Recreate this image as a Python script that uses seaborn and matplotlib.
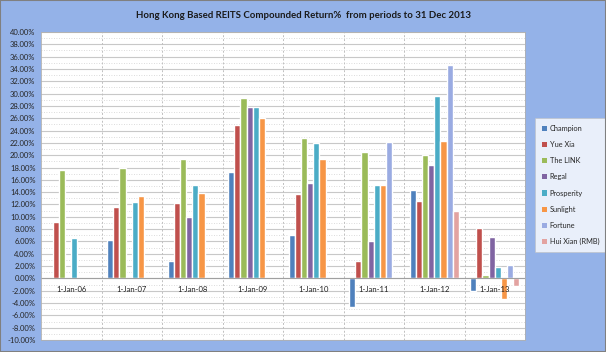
import numpy as np
import pandas as pd
import matplotlib
matplotlib.use('Agg')
import matplotlib.pyplot as plt
import seaborn as sns
from matplotlib.patches import Rectangle, Patch

# Compounded return (%) per REIT, by start date of period
periods = ['1-Jan-06', '1-Jan-07', '1-Jan-08', '1-Jan-09',
           '1-Jan-10', '1-Jan-11', '1-Jan-12', '1-Jan-13']
reits = ['Champion', 'Yue Xia', 'The LINK', 'Regal',
         'Prosperity', 'Sunlight', 'Fortune', 'Hui Xian (RMB)']

champion   = [np.nan, 6.3, 2.8, 17.2, 7.1, -4.7, 14.4, -2.0]
yue_xia    = [9.2, 11.6, 12.2, 24.9, 13.7, 2.9, 12.6, 8.2]
the_link   = [17.6, 18.0, 19.4, 29.3, 22.8, 20.5, 20.0, 0.6]
regal      = [np.nan, np.nan, 9.9, 27.9, 15.5, 6.0, 18.4, 6.7]
prosperity = [6.5, 12.4, 15.1, 27.9, 21.9, 15.2, 29.6, 1.8]
sunlight   = [np.nan, 13.3, 13.8, 26.0, 19.4, 15.1, 22.3, -3.4]
fortune    = [np.nan, np.nan, np.nan, np.nan, np.nan, 22.2, 34.7, 2.1]
hui_xian   = [np.nan, np.nan, np.nan, np.nan, np.nan, np.nan, 11.0, -1.3]

colors = ['#4f81bd', '#c0504d', '#9bbb59', '#8064a2',
          '#4bacc6', '#f79646', '#9aabe2', '#e3a3a1']

series = [champion, yue_xia, the_link, regal, prosperity, sunlight, fortune, hui_xian]
rows = []
for name, vals in zip(reits, series):
    for p, v in zip(periods, vals):
        rows.append({'period': p, 'reit': name, 'ret': v})
df = pd.DataFrame(rows).dropna()

sns.set_style('white')
plt.rcParams['font.family'] = ['Lato', 'DejaVu Sans']

fig = plt.figure(figsize=(6.06, 3.52), dpi=100)
fig.patch.set_facecolor('#94b2e8')
ax = fig.add_axes([41 / 606, 1 - 340 / 352, 484 / 606, 308 / 352])
ax.set_facecolor('white')

sns.barplot(data=df, x='period', y='ret', hue='reit', order=periods,
            hue_order=reits, palette=colors, width=0.81, saturation=1,
            errorbar=None, ax=ax, legend=False)

ax.set_ylim(-10, 40)
ax.set_xlim(-0.5, len(periods) - 0.5)
ax.set_yticks(np.arange(-10, 41, 2))
ax.set_yticklabels([f'{v:.2f}%' for v in np.arange(-10, 41, 2)], fontsize=5.5)
ax.tick_params(axis='y', length=0, pad=4)
ax.set_xticks([])
ax.set_xlabel('')
ax.set_ylabel('')

# gridlines
for v in np.arange(-10, 41, 2):
    ax.axhline(v, color='#c8c8c8', lw=0.8, zorder=0)
for v in np.arange(-9, 40, 2):
    ax.axhline(v, color='#d0d0d0', lw=0.6, ls=(0, (1, 2)), zorder=0)
for i in range(len(periods) - 1):
    ax.axvline(i + 0.5, color='#c0c0c0', lw=0.7, ls=(0, (2, 2)), zorder=0)
ax.axhline(0, color='#a0a0a0', lw=0.8, zorder=1)

# category labels sit next to the zero line
for i, p in enumerate(periods):
    ax.text(i, -1.85, p, ha='center', va='center', fontsize=5.5, color='#202020')

for s in ax.spines.values():
    s.set_color('#b0b0b0')
    s.set_linewidth(0.6)

fig.text(0.5, 1 - 15 / 352, 'Hong Kong Based REITS Compounded Return%  from periods to 31 Dec 2013',
         ha='center', va='center', fontsize=6.9, fontweight='bold', color='#1a1a1a')

handles = [Patch(facecolor=c, edgecolor='none') for c in colors]
leg = ax.legend(handles, reits, loc='center left', bbox_to_anchor=(535 / 606, 1 - 185 / 352),
                bbox_transform=fig.transFigure, fontsize=5.3, frameon=True,
                fancybox=False, handlelength=0.7, handleheight=0.7, handletextpad=0.4,
                labelspacing=1.25, borderpad=0.9, borderaxespad=0)
leg.get_frame().set_facecolor('white')
leg.get_frame().set_edgecolor('#c0c0c0')
leg.get_frame().set_linewidth(0.5)

fig.patches.append(Rectangle((0, 0), 1, 1, transform=fig.transFigure, fill=False,
                             edgecolor='#808080', lw=1.5))

fig.savefig('out.png', dpi=100)
